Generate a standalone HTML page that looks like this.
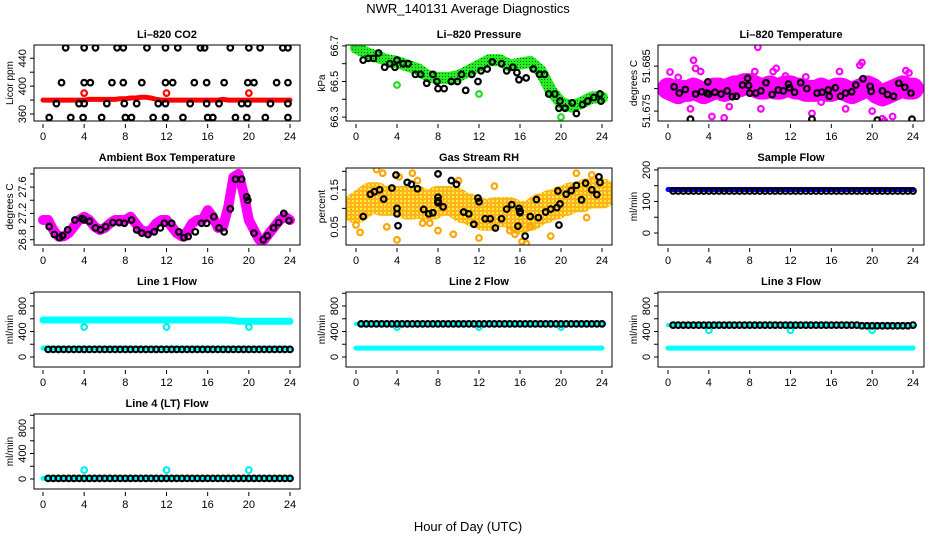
<!DOCTYPE html>
<html><head><meta charset="utf-8"><style>
html,body{margin:0;padding:0;background:#fff;}
svg{display:block;font-family:"Liberation Sans",sans-serif;}
</style></head><body>
<svg id="c" width="936" height="540" viewBox="0 0 936 540" xmlns="http://www.w3.org/2000/svg">
<defs>
<pattern id="rhpat" width="4" height="4" patternUnits="userSpaceOnUse"><rect width="4" height="4" fill="#ffa500"/><rect x="0" y="0" width="2" height="2" fill="#ffee00"/></pattern>
<pattern id="grpat" width="3" height="3" patternUnits="userSpaceOnUse"><rect width="3" height="3" fill="#22ee22"/><rect x="1" y="1" width="1" height="1" fill="#115511"/></pattern>
</defs>
<text x="468" y="13" text-anchor="middle" font-size="13">NWR_140131  Average Diagnostics</text>
<text x="468" y="531" text-anchor="middle" font-size="13">Hour of Day (UTC)</text>
</svg>
<script>
// ---------- data ----------
const xTicks = [0,4,8,12,16,20,24];
// CO2
const co2Red = [380,380,380,380,380,380,380,380,380,381,381,381,381,381,381,382,382,383,383,384,384,383,381,380,380,380,380,380,380,380,380,380,380,380,380,381,380,380,380,380,380,380,380,380,380,380,380,380,380];
const co2RedOutHours = [4,12,20];
const co2RedOutVals = [390,390,390];
const co2BlackHours = [2.2,4.0,5.1,7.2,7.8,10.1,11.9,13.1,15.3,15.7,18.2,20.0,21.1,23.3,23.8, 1.8,4.0,4.6,6.7,7.8,9.6,11.9,12.6,14.7,15.9,17.6,19.9,20.5,22.7,23.8, 1.3,3.5,4.0,6.2,7.9,9.1,11.2,11.9,14.3,15.9,17.1,19.3,19.9,22.1,23.8, 0.6,2.7,3.9,5.7,8.0,8.6,10.7,11.9,13.6,16.0,16.5,18.7,19.8,21.6,23.8];
const co2BlackVals = [455,455,455,455,455,455,455,455,455,455,455,455,455,455,455, 405,405,405,405,405,405,405,405,405,405,405,405,405,405,405, 375,375,375,375,375,375,375,375,375,375,375,375,375,375,375, 355,355,355,355,355,355,355,355,355,355,355,355,355,355,355];
// Pressure
const presGreen = [66.69,66.66,66.64,66.62,66.61,66.59,66.57,66.53,66.52,66.52,66.53,66.56,66.59,66.62,66.62,66.59,66.60,66.61,66.56,66.45,66.38,66.36,66.38,66.41,66.41];
const presGreenOutHours = [0,4,12,20];
const presGreenOutVals = [66.69,66.48,66.43,66.30];
const presBlackHours = [0.7,1.2,1.7,2.2,2.8,3.3,3.8,4.0,4.6,5.1,5.8,6.3,6.9,7.5,7.9,8.0,8.6,9.3,9.9,10.3,10.7,11.3,11.9,12.2,12.8,13.3,14.2,14.7,15.3,15.7,15.9,16.6,17.3,17.9,18.4,18.8,19.4,19.9,19.8,20.4,21.1,21.5,22.1,22.6,23.2,23.8,23.9];
const presBlackVals = [66.62,66.63,66.63,66.66,66.58,66.60,66.58,66.62,66.60,66.60,66.54,66.54,66.49,66.54,66.50,66.46,66.46,66.50,66.50,66.54,66.45,66.54,66.50,66.56,66.57,66.61,66.60,66.56,66.58,66.55,66.51,66.52,66.57,66.54,66.54,66.43,66.43,66.39,66.35,66.35,66.38,66.32,66.37,66.39,66.41,66.43,66.39];
// Li-820 temperature
const tempMag = [51.6800,51.6795,51.6790,51.6795,51.6795,51.6800,51.6795,51.6790,51.6795,51.6800,51.6800,51.6795,51.6800,51.6805,51.6805,51.6810,51.6810,51.6805,51.6800,51.6800,51.6805,51.6800,51.6800,51.6805,51.6805,51.6800,51.6800,51.6795,51.6795,51.6795,51.6800,51.6795,51.6795,51.6800,51.6800,51.6795,51.6790,51.6795,51.6800,51.6805,51.6800,51.6790,51.6785,51.6790,51.6795,51.6800,51.6805,51.6800,51.6800];
const tempMagOutHours = [0.2,2.5,2.7,3.2,8.8,8.5,10.6,10.3,16.8,18.8,19.0,23.3,23.6,5.5,4.3,21.2,21.0,22.0,2.2,9.1,14.1,17.4,6.0,20.0,1.0,11.5,13.5,15.0];
const tempMagOutVals = [51.6837,51.6863,51.6845,51.6838,51.6892,51.6838,51.6845,51.6838,51.6838,51.6852,51.6858,51.6840,51.6835,51.6735,51.6738,51.6728,51.6733,51.6738,51.6755,51.6755,51.6745,51.6755,51.6760,51.6750,51.6825,51.6828,51.6826,51.6770];
const tempBlackHours = [0.6,1.1,1.7,2.2,2.7,3.3,3.8,3.9,4.0,4.6,5.2,5.8,6.3,6.7,7.3,7.8,7.9,8.0,8.6,9.1,9.6,10.2,10.8,11.3,11.8,11.9,12.4,13.0,13.6,14.1,14.6,15.1,15.7,15.8,16.4,16.9,17.4,18.0,18.4,19.1,19.8,19.9,20.5,21.0,21.5,22.1,22.6,23.2,23.8,23.9];
const tempBlackVals = [51.6804,51.6790,51.6798,51.6732,51.6788,51.6793,51.6790,51.6815,51.6788,51.6792,51.6788,51.6795,51.6782,51.6783,51.6808,51.6823,51.6807,51.6790,51.6790,51.6795,51.6813,51.6787,51.6797,51.6795,51.6810,51.6802,51.6792,51.6813,51.6800,51.6732,51.6790,51.6792,51.6797,51.6783,51.6802,51.6783,51.6790,51.6793,51.6808,51.6822,51.6805,51.6794,51.6730,51.6795,51.6787,51.6783,51.6812,51.6803,51.6790,51.6732];
// Ambient box temperature
const ambMag = [27.10,27.10,26.95,26.85,26.85,26.90,27.00,27.10,27.15,27.10,27.00,26.95,26.98,27.05,27.10,27.10,27.10,27.15,27.05,26.95,26.92,26.95,27.05,27.10,27.10,27.00,26.90,26.85,26.92,27.05,27.10,27.10,27.25,27.15,26.98,27.00,27.30,27.75,27.80,27.50,27.10,26.95,26.80,26.80,26.90,27.00,27.10,27.15,27.10];
const ambBlackHours = [0.6,1.1,1.6,1.9,2.4,3.1,3.8,4.0,4.5,5.1,5.6,6.1,6.8,7.4,7.9,8.6,9.1,9.6,10.2,10.8,11.4,11.8,12.5,13.2,13.7,14.1,14.8,15.4,15.9,16.6,17.1,17.6,18.2,18.7,19.3,19.8,19.9,20.5,21.4,21.8,22.4,22.9,23.4,23.9];
const ambBlackVals = [27.00,26.88,26.83,26.86,26.95,27.10,27.12,27.10,27.08,26.98,26.95,27.00,27.06,27.06,27.05,27.10,26.95,26.90,26.88,26.92,26.98,27.05,27.05,26.92,26.83,26.85,26.92,27.05,27.05,27.15,26.98,26.92,27.27,27.72,27.72,27.45,27.40,26.90,26.80,26.86,26.98,27.06,27.20,27.09];
// Gas stream RH
const rhBand = [0.10,0.11,0.12,0.13,0.13,0.12,0.12,0.12,0.12,0.12,0.11,0.11,0.12,0.11,0.11,0.11,0.12,0.12,0.12,0.12,0.11,0.10,0.10,0.09,0.09,0.08,0.08,0.09,0.09,0.09,0.09,0.08,0.07,0.08,0.08,0.09,0.10,0.10,0.11,0.11,0.12,0.12,0.13,0.13,0.13,0.14,0.14,0.14,0.14];
const rhOutHours = [0.0,0.4,2.0,2.6,4.0,4.2,5.5,6.0,6.5,8.0,9.5,10.0,12.0,13.5,15.0,15.5,16.2,16.6,17.0,19.0,21.5,22.5,23.0,23.7,3.0,7.2];
const rhOutVals = [0.055,0.035,0.205,0.195,0.015,0.185,0.195,0.175,0.06,0.04,0.03,0.175,0.02,0.16,0.04,0.03,0.01,0.005,0.05,0.025,0.195,0.075,0.19,0.185,0.05,0.06];
const rhBlackHours = [0.7,1.4,1.8,2.3,2.7,3.5,3.9,4.0,4.0,4.1,5.0,5.4,6.0,6.6,7.1,7.5,8.0,8.0,8.0,8.0,8.5,9.3,9.8,10.5,11.0,11.5,11.9,12.0,12.6,13.1,13.6,14.2,14.7,15.2,15.9,16.0,16.0,15.8,16.5,17.0,17.6,17.8,18.5,19.0,19.6,19.7,19.8,19.9,20.5,21.0,21.5,22.0,22.4,23.0,23.5,23.7,23.8];
const rhBlackVals = [0.078,0.138,0.145,0.150,0.125,0.155,0.190,0.100,0.085,0.053,0.170,0.165,0.153,0.097,0.085,0.088,0.130,0.120,0.115,0.193,0.104,0.175,0.165,0.090,0.085,0.057,0.128,0.118,0.072,0.072,0.047,0.072,0.098,0.110,0.100,0.092,0.088,0.052,0.025,0.078,0.124,0.075,0.090,0.098,0.102,0.147,0.055,0.112,0.138,0.148,0.162,0.123,0.168,0.150,0.137,0.185,0.170];
// Sample flow
const sampleBlue = [138,138,138,138,138,138,138,138,138,138,138,138,138,138,138,138,138,138,138,138,138,138,138,138,138];
const sampleBlack = [133,133,133,133,133,133,133,133,133,133,133,133,133,133,133,133,133,133,133,133,133,133,133,133,133,133,133,133,133,133,133,133,133,133,133,133,133,133,133,133,133,133,133,133,133,133,133,133];
// Line flows
const line1CyanHi = [580,580,580,580,580,580,580,580,580,580,580,580,580,580,580,580,580,580,580,560,560,560,560,560,560];
const line1CyanLo = [140,140,140,140,140,140,140,140,140,140,140,140,140,140,140,140,140,140,140,140,140,140,140,140,140];
const line1Black = [120,120,120,120,120,120,120,120,120,120,120,120,120,120,120,120,120,120,120,120,120,120,120,120,120,120,120,120,120,120,120,120,120,120,120,120,120,120,120,120,120,120,120,120,120,120,120,120];
const line1OutVals = [470,470,470];
const line2CyanHi = [520,520,520,520,520,520,520,520,520,520,520,520,520,520,520,520,520,520,520,520,520,520,520,520,520];
const line2CyanLo = [140,140,140,140,140,140,140,140,140,140,140,140,140,140,140,140,140,140,140,140,140,140,140,140,140];
const line2Black = [520,520,520,520,520,520,520,520,520,520,520,520,520,520,520,520,520,520,520,520,520,520,520,520,520,520,520,520,520,520,520,520,520,520,520,520,520,520,520,520,520,520,520,520,520,520,520,520];
const line2OutVals = [470,470,470];
const line3CyanHi = [500,500,500,500,500,500,500,500,500,500,500,500,500,500,500,500,500,500,490,480,480,480,480,480,480];
const line3CyanLo = [140,140,140,140,140,140,140,140,140,140,140,140,140,140,140,140,140,140,140,140,140,140,140,140,140];
const line3Black = [500,500,500,500,500,500,500,500,500,500,500,500,500,500,500,500,500,500,500,500,500,500,500,500,500,500,500,500,500,500,500,500,500,500,500,500,500,490,490,490,490,490,490,490,490,490,490,500];
const line3OutVals = [420,420,420];
const line4Cyan = [10,10,10,10,10,10,10,10,10,10,10,10,10,10,10,10,10,10,10,10,10,10,10,10,10];
const line4Black = [10,10,10,10,10,10,10,10,10,10,10,10,10,10,10,10,10,10,10,10,10,10,10,10,10,10,10,10,10,10,10,10,10,10,10,10,10,10,10,10,10,10,10,10,10,10,10,10];
const line4OutVals = [140,140,140];
const flowOutHours = [4,12,20];

// ---------- drawing ----------
const NS = "http://www.w3.org/2000/svg";
const svg = document.getElementById('c');
const cols = [[34,300,43,290],[346,612,356,602],[658,924,668,913]];
const rows = [[45,121],[168,245],[292,367],[414,489]];
function mk(tag, attrs, parent){ const e=document.createElementNS(NS,tag); for(const k in attrs) e.setAttribute(k,attrs[k]); (parent||svg).appendChild(e); return e; }
function evenHours(n){ const h=[]; for(let i=0;i<n;i++) h.push(i*24/(n-1)); return h; }
function blackHours(n){ const h=[]; for(let i=0;i<n;i++) h.push(0.5+i*23.5/(n-1)); return h; }

function panel(key, title, ylab, c, r, ymin, ymax, ticks, labels){
  const [bl,br,x0,x24]=cols[c], [bt,bb]=rows[r];
  const g = mk('g',{});
  
  
  const X = h => x0 + (x24-x0)*h/24;
  const Y = v => bb - (bb-bt)*(v-ymin)/(ymax-ymin);
  const cp = mk('clipPath',{id:'clip-'+key}, g);
  mk('rect',{x:bl,y:bt,width:br-bl,height:bb-bt},cp);
  const plot = mk('g',{'clip-path':'url(#clip-'+key+')'}, g);
  
  
  const box = mk('rect',{x:bl,y:bt,width:br-bl,height:bb-bt,fill:'none',stroke:'#000','stroke-width':1}, g);
  
  
  const t = mk('text',{x:(bl+br)/2,y:bt-7,'text-anchor':'middle','font-size':11,'font-weight':'bold'}, g);
  t.textContent = title;
  
  
  xTicks.forEach(h=>{
    mk('line',{x1:X(h),x2:X(h),y1:bb+3,y2:bb+7,stroke:'#000'}, g);
    const tl = mk('text',{x:X(h),y:bb+19,'text-anchor':'middle','font-size':11}, g);
    tl.textContent = h;
    
    
  });
  ticks.forEach(v=>{
    mk('line',{x1:bl-4,x2:bl,y1:Y(v),y2:Y(v),stroke:'#000'}, g);
  });
  labels.forEach(v=>{
    const yl = mk('text',{x:bl-8,y:Y(v),'text-anchor':'middle','font-size':11,transform:`rotate(-90 ${bl-8} ${Y(v)})`}, g);
    yl.textContent = v;
    
    
  });
  const at = mk('text',{x:bl-21,y:(bt+bb)/2,'text-anchor':'middle','font-size':10,transform:`rotate(-90 ${bl-21} ${(bt+bb)/2})`}, g);
  at.textContent = ylab;
  
  
  return {plot,X,Y};
}
function band(p, hours, vals, color, w, name, op){
  const pts = hours.map((h,i)=>p.X(h).toFixed(1)+','+p.Y(vals[i]).toFixed(1)).join(' ');
  const l = mk('polyline',{points:pts,fill:'none',stroke:color,'stroke-width':w,'stroke-linecap':'round','stroke-linejoin':'round','stroke-opacity':op||1}, p.plot);
  
  
}
function pts(p, hours, vals, color, name, sw){
  hours.forEach((h,i)=>{
    const e = mk('circle',{cx:p.X(h),cy:p.Y(vals[i]),r:2.8,fill:'none',stroke:color,'stroke-width':sw||2.2}, p.plot);
    
    
  });
}

p = panel('co2','Li\u2013820 CO2','Licor ppm',0,0,350,459,[360,380,400,420,440],[360,400,440]);
band(p, evenHours(co2Red.length), co2Red, '#ff0000', 5, 'co2-red-series');
pts(p, co2RedOutHours, co2RedOutVals, '#ff0000', 'co2-red-point');
pts(p, co2BlackHours, co2BlackVals, '#000', 'co2-black-point');

p = panel('pressure','Li\u2013820 Pressure','kPa',1,0,66.278,66.705,[66.3,66.4,66.5,66.6,66.7],[66.3,66.5,66.7]);
band(p, evenHours(presGreen.length), presGreen, 'url(#grpat)', 12, 'pressure-green-series');
pts(p, presGreenOutHours, presGreenOutVals, '#22dd22', 'pressure-green-point');
pts(p, presBlackHours, presBlackVals, '#000', 'pressure-black-point');

p = panel('li820-temp','Li\u2013820 Temperature','degrees C',2,0,51.6728,51.6897,[51.675,51.680,51.685],[51.675,51.685]);
band(p, evenHours(tempMag.length), tempMag, '#ff00ff', 22, 'temp-magenta-series');
pts(p, tempMagOutHours, tempMagOutVals, '#ff00ff', 'temp-magenta-point', 2.2);
pts(p, tempBlackHours, tempBlackVals, '#000', 'temp-black-point');

p = panel('ambient','Ambient Box Temperature','degrees C',0,1,26.72,27.89,[26.8,27.0,27.2,27.4,27.6,27.8],[26.8,27.2,27.6]);
band(p, evenHours(ambMag.length), ambMag, '#ff00ff', 10, 'ambient-magenta-series');
pts(p, ambBlackHours, ambBlackVals, '#000', 'ambient-black-point');

p = panel('rh','Gas Stream RH','percent',1,1,0.001,0.209,[0.05,0.10,0.15,0.20],[0.05,0.15]);
band(p, evenHours(rhBand.length), rhBand, 'url(#rhpat)', 30, 'rh-orange-series', 0.85);
pts(p, rhOutHours, rhOutVals, '#ffa500', 'rh-orange-point', 2.2);
pts(p, rhBlackHours, rhBlackVals, '#000', 'rh-black-point');

p = panel('sample-flow','Sample Flow','ml/min',2,1,-38,206,[0,50,100,150,200],[0,100,200]);
band(p, evenHours(sampleBlue.length), sampleBlue, '#0000ff', 5, 'sample-blue-series');
pts(p, blackHours(sampleBlack.length), sampleBlack, '#000', 'sample-black-point');

const fTicks=[0,200,400,600,800,1000], fLabels=[0,400,800];
p = panel('line1','Line 1 Flow','ml/min',0,2,-157,1020,fTicks,fLabels);
band(p, evenHours(line1CyanHi.length), line1CyanHi, '#00ffff', 7, 'line1-cyan-high-series');
band(p, evenHours(line1CyanLo.length), line1CyanLo, '#00ffff', 5, 'line1-cyan-low-series');
pts(p, flowOutHours, line1OutVals, '#00eeee', 'line1-cyan-point', 2.2);
pts(p, blackHours(line1Black.length), line1Black, '#000', 'line1-black-point');

p = panel('line2','Line 2 Flow','ml/min',1,2,-157,1020,fTicks,fLabels);
band(p, evenHours(line2CyanLo.length), line2CyanLo, '#00ffff', 5, 'line2-cyan-low-series');
band(p, evenHours(line2CyanHi.length), line2CyanHi, '#00ffff', 4, 'line2-cyan-high-series');
pts(p, flowOutHours, line2OutVals, '#00eeee', 'line2-cyan-point', 2.2);
pts(p, blackHours(line2Black.length), line2Black, '#000', 'line2-black-point');

p = panel('line3','Line 3 Flow','ml/min',2,2,-157,1020,fTicks,fLabels);
band(p, evenHours(line3CyanLo.length), line3CyanLo, '#00ffff', 5, 'line3-cyan-low-series');
band(p, evenHours(line3CyanHi.length), line3CyanHi, '#00ffff', 4, 'line3-cyan-high-series');
pts(p, flowOutHours, line3OutVals, '#00eeee', 'line3-cyan-point', 2.2);
pts(p, blackHours(line3Black.length), line3Black, '#000', 'line3-black-point');

p = panel('line4','Line 4 (LT) Flow','ml/min',0,3,-157,1020,fTicks,fLabels);
band(p, evenHours(line4Cyan.length), line4Cyan, '#00ffff', 5, 'line4-cyan-series');
pts(p, flowOutHours, line4OutVals, '#00eeee', 'line4-cyan-point', 2.2);
pts(p, blackHours(line4Black.length), line4Black, '#000', 'line4-black-point');
</script>
</body></html>
